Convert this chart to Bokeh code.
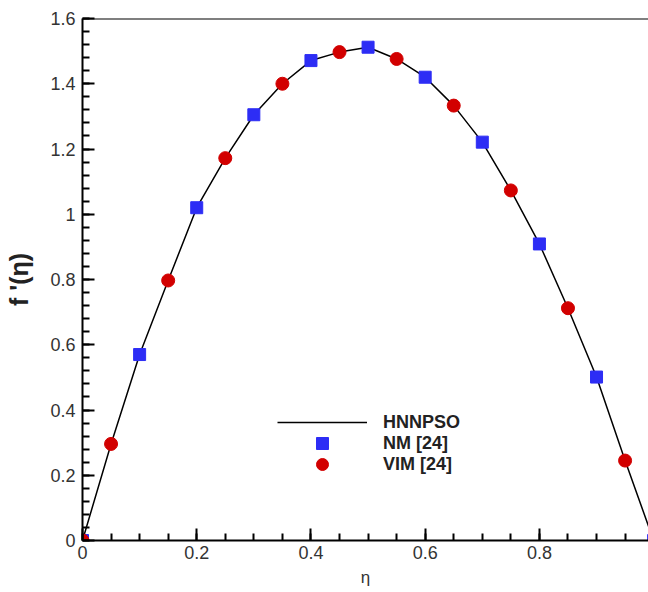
from bokeh.plotting import figure
from bokeh.models import (Span, Legend, LegendItem, CustomJSTickFormatter, Range1d,
                          SingleIntervalTicker)
from bokeh.embed import file_html
from bokeh.resources import INLINE

# HNNPSO solution curve
eta_line = [0.0, 0.05, 0.1, 0.15, 0.2, 0.25, 0.3, 0.35, 0.4, 0.45, 0.5,
            0.55, 0.6, 0.65, 0.7, 0.75, 0.8, 0.85, 0.9, 0.95, 1.0]
f_line = [0.0, 0.296, 0.570, 0.797, 1.020, 1.172, 1.305, 1.400, 1.471, 1.497, 1.512,
          1.476, 1.420, 1.333, 1.221, 1.073, 0.909, 0.712, 0.501, 0.245, 0.0]

# NM [24]
eta_nm = [0.0, 0.1, 0.2, 0.3, 0.4, 0.5, 0.6, 0.7, 0.8, 0.9, 1.0]
f_nm = [0.0, 0.570, 1.020, 1.305, 1.471, 1.512, 1.420, 1.221, 0.909, 0.501, 0.0]

# VIM [24]
eta_vim = [0.0, 0.05, 0.15, 0.25, 0.35, 0.45, 0.55, 0.65, 0.75, 0.85, 0.95]
f_vim = [0.0, 0.296, 0.797, 1.172, 1.400, 1.497, 1.476, 1.333, 1.073, 0.712, 0.245]

series_labels = ["HNNPSO", "NM [24]", "VIM [24]"]

FONT = "Liberation Sans"

p = figure(width=648, height=592, output_backend="svg", toolbar_location=None,
           x_range=Range1d(0, 0.991), y_range=Range1d(0, 1.6),
           min_border_left=82, min_border_right=0, min_border_top=18, min_border_bottom=52)
p.outline_line_color = None
p.xgrid.visible = False
p.ygrid.visible = False
p.background_fill_color = "white"

fmt = CustomJSTickFormatter(code="return String(parseFloat(tick.toFixed(2)));")

p.xaxis.ticker = SingleIntervalTicker(interval=0.2, num_minor_ticks=4)
p.yaxis.ticker = SingleIntervalTicker(interval=0.2, num_minor_ticks=5)
for ax in (p.xaxis[0], p.yaxis[0]):
    ax.formatter = fmt
    ax.axis_line_width = 2
    ax.axis_line_color = "black"
    ax.major_tick_in = 12
    ax.major_tick_out = 0
    ax.minor_tick_in = 7
    ax.minor_tick_out = 0
    ax.major_tick_line_width = 2
    ax.minor_tick_line_width = 2
    ax.major_tick_line_color = "black"
    ax.minor_tick_line_color = "black"
    ax.major_label_text_font = FONT
    ax.major_label_text_font_size = "18px"
    ax.major_label_text_color = "#333333"
p.xaxis.major_label_standoff = 5
p.yaxis.major_label_standoff = 7

p.xaxis.axis_label = "η"
p.xaxis.axis_label_text_font = FONT
p.xaxis.axis_label_text_font_style = "normal"
p.xaxis.axis_label_text_font_size = "17px"
p.xaxis.axis_label_text_color = "#333333"
p.xaxis.axis_label_standoff = 6

p.yaxis.axis_label = "f '(η)"
p.yaxis.axis_label_text_font = FONT
p.yaxis.axis_label_text_font_style = "bold"
p.yaxis.axis_label_text_font_size = "25px"
p.yaxis.axis_label_text_color = "#222222"
p.yaxis.axis_label_standoff = 14

top = Span(location=1.6, dimension="width", line_color="black", line_width=2)
p.add_layout(top)

r_line = p.line(eta_line, f_line, line_color="black", line_width=1.5)
r_nm = p.scatter(eta_nm, f_nm, marker="square", size=12,
                 fill_color="#2d2df5", line_color="#2d2df5")
r_vim = p.scatter(eta_vim, f_vim, marker="circle", size=13,
                  fill_color="#d20000", line_color="#d20000")

# one legend per row so that rows can sit closer than the glyph box height
renderers = [r_line, r_nm, r_vim]
row_offsets = [103, 82, 61]
for lab, rend, off in zip(series_labels, renderers, row_offsets):
    lg = Legend(items=[LegendItem(label=lab, renderers=[rend])],
                location=(195, off), glyph_width=90, glyph_height=30, spacing=0,
                padding=0, margin=0, border_line_color=None, background_fill_alpha=0,
                label_text_font=FONT, label_text_font_style="bold",
                label_text_font_size="18px", label_text_color="#222222",
                label_standoff=16, label_height=20)
    p.add_layout(lg)

open("out.html", "w").write(file_html(p, INLINE))
